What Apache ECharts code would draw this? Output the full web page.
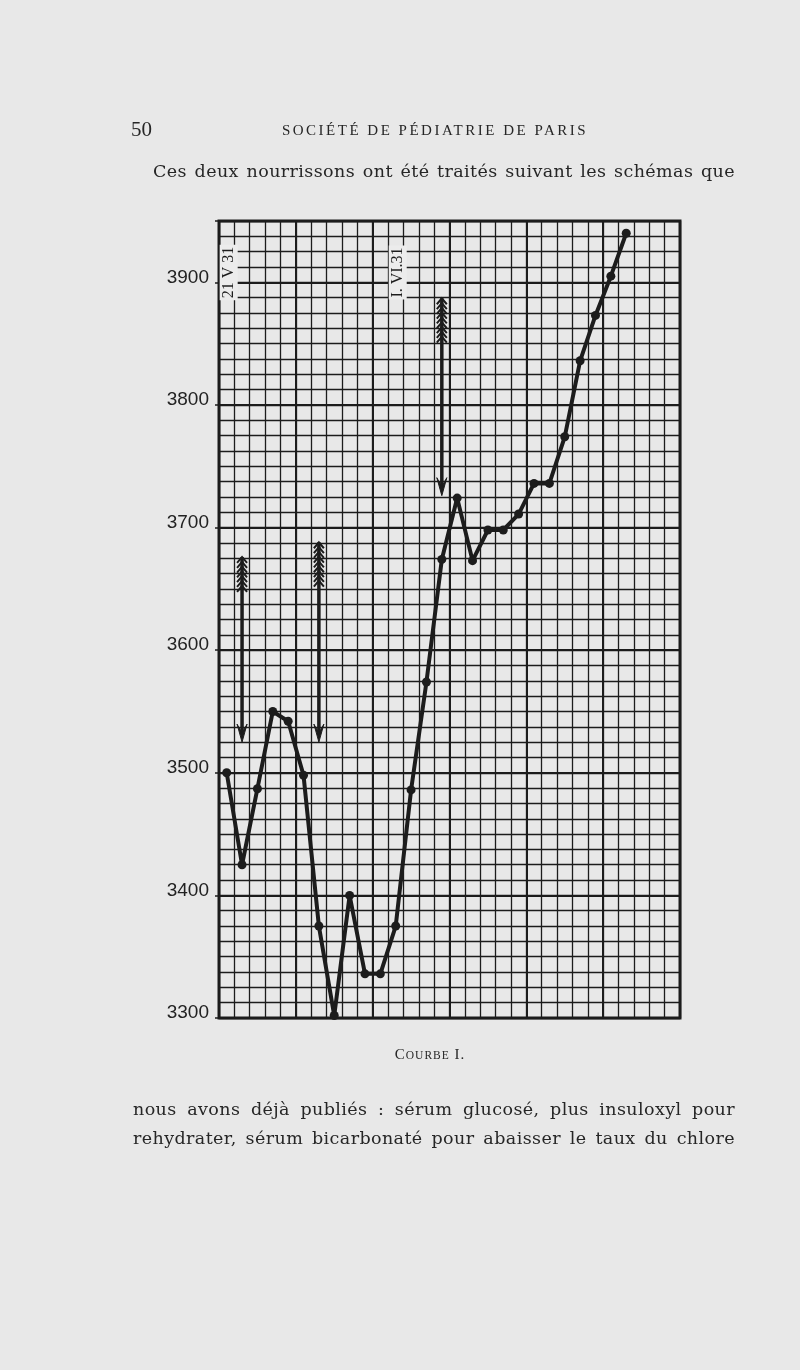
<!DOCTYPE html>
<html>
<head>
<meta charset="utf-8">
<script src="https://cdn.jsdelivr.net/npm/echarts@6/dist/echarts.min.js"></script>
<style>
  html, body { margin: 0; padding: 0; background: #e8e8e8; }
  #page { position: relative; width: 800px; height: 1370px; overflow: hidden; }
  #chart { position: absolute; left: 0; top: 0; width: 800px; height: 1370px; }
  .t { position: absolute; font-family: "DejaVu Serif", "Liberation Serif", serif; color: #262626; white-space: nowrap; }
  .j { text-align: justify; text-align-last: justify; white-space: normal; font-size: 17.5px; letter-spacing: 0.4px; }
</style>
</head>
<body>
<div id="page">
  <div id="chart"></div>
  <div class="t" style="left:131px; top:117px; font-size:21px; font-family:'Liberation Serif';">50</div>
  <div class="t" style="left:275px; top:122px; width:320px; font-size:15px; letter-spacing:2.5px; text-align:center; font-family:'Liberation Serif';">SOCIÉTÉ DE PÉDIATRIE DE PARIS</div>
  <div class="t j" style="left:153px; top:161px; width:582px;">Ces deux nourrissons ont été traités suivant les schémas que</div>
  <div class="t" style="left:370px; top:1046px; width:120px; font-size:15px; letter-spacing:1px; text-align:center; font-family:'Liberation Serif';">C<span style="font-size:11.5px;">OURBE</span> I.</div>
  <div class="t j" style="left:133px; top:1099px; width:602px;">nous avons déjà publiés : sérum glucosé, plus insuloxyl pour</div>
  <div class="t j" style="left:133px; top:1128px; width:602px;">rehydrater, sérum bicarbonaté pour abaisser le taux du chlore</div>
</div>
<script>
// ---- data ----
const days = ['21 V','22 V','23 V','24 V','25 V','26 V','27 V','28 V','29 V','30 V','31 V',
              '1 VI','2 VI','3 VI','4 VI','5 VI','6 VI','7 VI','8 VI','9 VI','10 VI',
              '11 VI','12 VI','13 VI','14 VI','15 VI','16 VI','17 VI','18 VI','19 VI'];
const weights = [3500, 3425, 3487, 3550, 3542, 3498, 3375, 3302, 3400, 3336, 3336, 3375, 3486,
                 3574, 3674, 3724, 3673, 3698, 3698, 3711, 3736, 3736, 3774, 3836, 3873, 3905, 3940];
const arrowCols = [1, 6, 14];
const arrowTop = [3676, 3688, 3887];
const arrowTip = [3525, 3525, 3726];
const dateLabelCols = [0, 11];
const dateLabelTexts = ['21 V 31', 'I. VI.31'];
const dateLabelY = [3908, 3908];
const yMin = 3300, yMax = 3950;

// ---- chart ----
const ink = '#1c1c1c';
const chart = echarts.init(document.getElementById('chart'), null, { renderer: 'canvas' });

const arrowData = arrowCols.map((c, i) => [c, arrowTop[i], arrowTip[i]]);
const labelData = dateLabelCols.map((c, i) => [c, dateLabelY[i]]);

const option = {
  backgroundColor: 'transparent',
  animation: false,
  grid: { left: 219, top: 221, width: 461, height: 797, show: true, borderColor: ink, borderWidth: 3, backgroundColor: 'transparent' },
  xAxis: [
    { type: 'category', data: days, boundaryGap: true, axisLine: { show: false }, axisTick: { show: false }, axisLabel: { show: false },
      splitLine: { show: true, interval: 0, lineStyle: { color: ink, width: 1.3 } } },
    { type: 'category', data: days, boundaryGap: true, position: 'bottom', axisLine: { show: false }, axisTick: { show: false }, axisLabel: { show: false },
      splitLine: { show: true, interval: function (i) { return i > 0 && i % 5 === 0; }, lineStyle: { color: ink, width: 2 } } }
  ],
  yAxis: [
    { type: 'value', min: yMin, max: yMax, interval: 12.5, axisLine: { show: false }, axisTick: { show: false }, axisLabel: { show: false },
      splitLine: { show: true, lineStyle: { color: ink, width: 1.3 } } },
    { type: 'value', min: yMin, max: yMax, interval: 100, position: 'left', axisLine: { show: false },
      axisTick: { show: true, length: 4, lineStyle: { color: ink, width: 1.5 } },
      axisLabel: { show: true, margin: 10, color: '#222', fontFamily: 'Liberation Sans', fontSize: 19, verticalAlign: 'bottom', lineHeight: 10,
        formatter: function (v) { return v % 100 === 0 && v < 3950 ? String(v) : ''; } },
      splitLine: { show: true, lineStyle: { color: ink, width: 2 } } }
  ],
  series: [
    {
      type: 'custom', name: 'dates', xAxisIndex: 0, yAxisIndex: 0, z: 3, data: labelData,
      renderItem: function (params, api) {
        const p = api.coord([api.value(0), api.value(1)]);
        return {
          type: 'text', x: p[0] + 2, y: p[1], rotation: Math.PI / 2,
          style: { text: dateLabelTexts[params.dataIndex], fill: ink, font: '16px "Liberation Serif"',
                   align: 'center', verticalAlign: 'middle', backgroundColor: '#ececec', padding: [1, 2] }
        };
      }
    },
    {
      type: 'custom', name: 'arrows', xAxisIndex: 0, yAxisIndex: 0, z: 4, data: arrowData,
      renderItem: function (params, api) {
        const x = api.value(0);
        const p1 = api.coord([x, api.value(1)]);
        const p2 = api.coord([x, api.value(2)]);
        const cx = p1[0];
        const kids = [
          { type: 'line', shape: { x1: cx, y1: p1[1], x2: cx, y2: p2[1] - 8 }, style: { stroke: ink, lineWidth: 3.5 } },
          { type: 'polygon', shape: { points: [[cx - 5, p2[1] - 18], [cx, p2[1] - 9], [cx + 5, p2[1] - 18], [cx, p2[1]]] }, style: { fill: ink, stroke: ink, lineWidth: 1 } }
        ];
        const n = params.dataIndex === 0 ? 7 : 9;
        for (let k = 0; k < n; k++) {
          const y0 = p1[1] + k * 4.8;
          kids.push({ type: 'polyline', shape: { points: [[cx - 5, y0 + 6], [cx, y0], [cx + 5, y0 + 6]] }, style: { stroke: ink, lineWidth: 2, fill: null } });
        }
        return { type: 'group', children: kids };
      }
    },
    {
      type: 'line', name: 'poids', xAxisIndex: 0, yAxisIndex: 0, z: 5, data: weights,
      symbol: 'circle', symbolSize: 9, clip: false,
      lineStyle: { color: ink, width: 4 }, itemStyle: { color: ink }
    }
  ]
};
chart.setOption(option);
</script>
</body>
</html>
